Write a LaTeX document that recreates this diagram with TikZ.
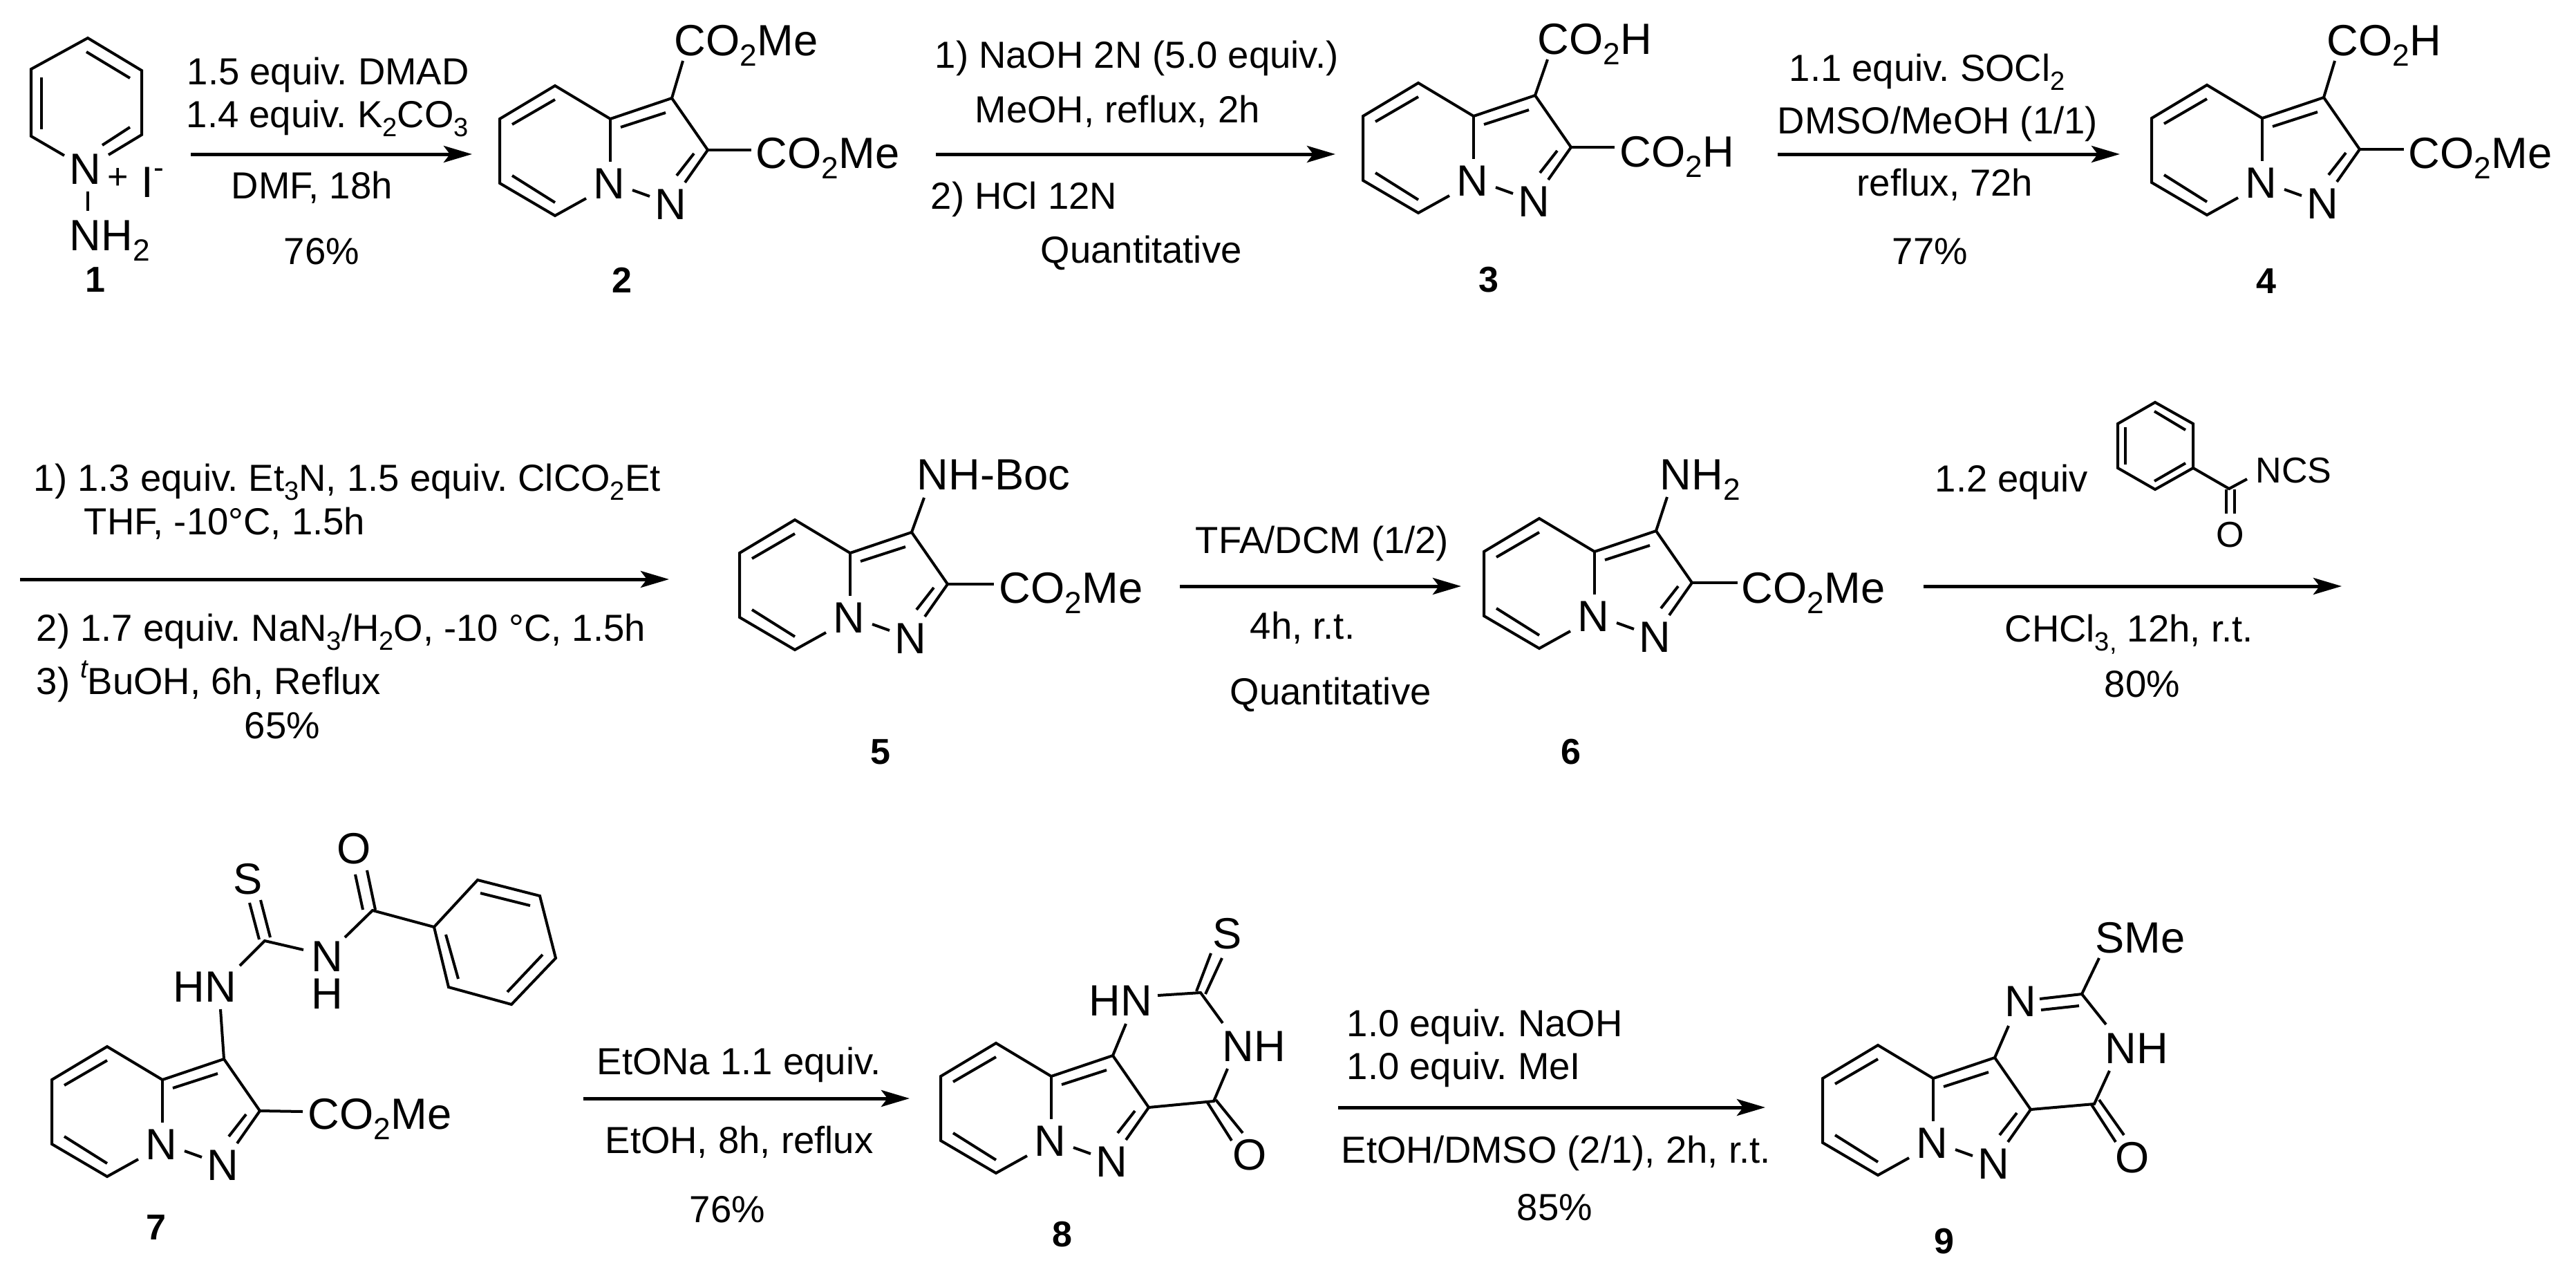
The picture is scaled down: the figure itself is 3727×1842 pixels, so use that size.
\documentclass[tikz,border=0pt]{standalone}
\usepackage{fontspec}
\setmainfont{Liberation Sans}
\usetikzlibrary{arrows.meta}
\newcommand{\chemdn}[1]{\raisebox{-.24em}{\scalebox{.7}{#1}}}
\newcommand{\chemup}[1]{\raisebox{.44em}{\scalebox{.7}{#1}}}
\tikzset{
  bond/.style={line width=.04cm},
  rxn/.style={line width=.05cm, -{Stealth[length=4.1mm, width=2.4mm, inset=.9mm]}},
  rgt/.style={anchor=base west, inner sep=0pt, font=\fontsize{15.5}{17}\selectfont\frenchspacing},
  sml/.style={inner sep=0pt, font=\fontsize{14.8}{16}\selectfont},
  atm/.style={anchor=base west, inner sep=0pt, font=\fontsize{18}{20}\selectfont},
  atc/.style={anchor=center, inner sep=0pt, font=\fontsize{18}{20}\selectfont},
  lbl/.style={anchor=center, inner sep=0pt, font=\fontsize{14.8}{16}\selectfont\bfseries},
  core/.pic={
    \coordinate (-a) at (0,0);
    \coordinate (-f) at (89,-30);
    \coordinate (-g) at (141,45);
    \node at (-2,94) [atc](-n){N};
    \node at (87,124) [atc](-m){N};
    \draw [bond] (-35,115) -- (-80,140) -- (-160,93) -- (-160,0) -- (-80,-48) -- (-a) -- (-f) -- (-g) -- (108,92);
    \draw [bond] (-a) -- (0,62);
    \draw [bond] (15,12) -- (80,-9);
    \draw [bond] (121,50) -- (96,82);
    \draw [bond] (-142,8) -- (-80,-28);
    \draw [bond] (-142,82) -- (-80,121);
    \draw [bond] (32,103) -- (57,112);
  }
}

\begin{document}
\begin{tikzpicture}[x=.01cm, y=-.01cm]
  \useasboundingbox (0,0) rectangle (3727,1842);

  % arrows
  \foreach \nm/\xa/\xb/\yy in {a1/276/683/223, a2/1354/1932/223, a3/2572/3067/223, a4/29/968/838, a5/1707/2114/848, a6/2783/3388/848, a7/844/1316/1589, a8/1936/2554/1602}{
    \coordinate (\nm s) at (\xa,\yy);
    \coordinate (\nm e) at (\xb,\yy);
    \draw [rxn] (\nm s) -- (\nm e);
  }
  % compound numbers
  \foreach \nm/\xx/\yy in {1/138/405, 2/900/405, 3/2154/405, 4/3279/407, 5/1274/1088, 6/2273/1088, 7/226/1776, 8/1537/1786, 9/2813/1796}
    \node at (\xx,\yy) [lbl](l\nm){\nm};

  % pyridinium salt
  \coordinate (p1) at (127,55);
  \coordinate (p2) at (205,102);
  \coordinate (p3) at (205,195);
  \coordinate (p4) at (157,224);
  \coordinate (p5) at (93,225);
  \coordinate (p6) at (45,197);
  \coordinate (p7) at (45,100);
  \draw [bond] (p4) -- (p3) -- (p2) -- (p1) -- (p7) -- (p6) -- (p5);
  \draw [bond] (125,75) -- (188,113);
  \draw [bond] (60,112) -- (60,187);
  \draw [bond] (188,184) -- (148,210);
  \node at (123,245) [atc](n1){N};
  \node at (171,258) [sml, anchor=center](plus){+};
  \node at (204,285) [atm](iod){I\chemup{-}};
  \node at (100,362) [atm](nh1){NH\chemdn{2}};
  \coordinate (b1) at (127,277);
  \coordinate (b2) at (127,305);
  \draw [bond] (b1) -- (b2);

  \node at (270,122) [rgt](r1){1.5 equiv. DMAD};
  \node at (269,184) [rgt](r2){1.4 equiv. K\chemdn{2}CO\chemdn{3}};
  \node at (334,287) [rgt](r3){DMF, 18h};
  \node at (410,382) [rgt](r4){76\%};

  % diester
  \pic (m2) at (883,172) {core};
  \node at (975,80) [atm](m2a){CO\chemdn{2}Me};
  \node at (1093,243) [atm](m2b){CO\chemdn{2}Me};
  \coordinate (m2u) at (988,88);
  \coordinate (m2r) at (1087,217);
  \draw [bond] (m2-f) -- (m2u);
  \draw [bond] (m2-g) -- (m2r);

  \node at (1352,98) [rgt](r5){1) NaOH 2N (5.0 equiv.)};
  \node at (1410,177) [rgt](r6){MeOH, reflux, 2h};
  \node at (1346,302) [rgt](r7){2) HCl 12N};
  \node at (1505,380) [rgt](r8){Quantitative};

  % diacid
  \pic (m3) at (2132,168) {core};
  \node at (2224,78) [atm](m3a){CO\chemdn{2}H};
  \node at (2343,241) [atm](m3b){CO\chemdn{2}H};
  \coordinate (m3u) at (2239,86);
  \coordinate (m3r) at (2336,213);
  \draw [bond] (m3-f) -- (m3u);
  \draw [bond] (m3-g) -- (m3r);

  \node at (2588,117) [rgt](r9){1.1 equiv. SOCl\chemdn{2}};
  \node at (2571,193) [rgt](r10){DMSO/MeOH (1/1)};
  \node at (2686,283) [rgt](r11){reflux, 72h};
  \node at (2737,382) [rgt](r12){77\%};

  % monoester
  \pic (m4) at (3273,171) {core};
  \node at (3366,80) [atm](m4a){CO\chemdn{2}H};
  \node at (3484,243) [atm](m4b){CO\chemdn{2}Me};
  \coordinate (m4u) at (3378,88);
  \coordinate (m4r) at (3478,216);
  \draw [bond] (m4-f) -- (m4u);
  \draw [bond] (m4-g) -- (m4r);

  % second row
  \node at (48,710) [rgt](r13){1) 1.3 equiv. Et\chemdn{3}N, 1.5 equiv. ClCO\chemdn{2}Et};
  \node at (121,773) [rgt](r14){THF, -10°C, 1.5h};
  \node at (52,927) [rgt](r15){2) 1.7 equiv. NaN\chemdn{3}/H\chemdn{2}O, -10 °C, 1.5h};
  \node at (52,1004) [rgt](r16){3) \chemup{\itshape t}BuOH, 6h, Reflux};
  \node at (353,1068) [rgt](r17){65\%};

  \pic (m5) at (1230,800) {core};
  \node at (1326,708) [atm](m5a){NH-Boc};
  \node at (1445,872) [atm](m5b){CO\chemdn{2}Me};
  \coordinate (m5u) at (1337,720);
  \coordinate (m5r) at (1438,845);
  \draw [bond] (m5-f) -- (m5u);
  \draw [bond] (m5-g) -- (m5r);

  \node at (1729,800) [rgt](r18){TFA/DCM (1/2)};
  \node at (1808,924) [rgt](r19){4h, r.t.};
  \node at (1779,1019) [rgt](r20){Quantitative};

  \pic (m6) at (2307,798) {core};
  \node at (2401,708) [atm](m6a){NH\chemdn{2}};
  \node at (2519,872) [atm](m6b){CO\chemdn{2}Me};
  \coordinate (m6u) at (2412,719);
  \coordinate (m6r) at (2514,843);
  \draw [bond] (m6-f) -- (m6u);
  \draw [bond] (m6-g) -- (m6r);

  \node at (2799,711) [rgt](r21){1.2 equiv};
  \node at (2900,928) [rgt](r22){CHCl\chemdn{3,} 12h, r.t.};
  \node at (3044,1008) [rgt](r23){80\%};

  % benzoyl isothiocyanate
  \coordinate (z1) at (3118,582);
  \coordinate (z2) at (3173,613);
  \coordinate (z3) at (3173,677);
  \coordinate (z4) at (3118,708);
  \coordinate (z5) at (3064,677);
  \coordinate (z6) at (3064,613);
  \coordinate (z7) at (3225,707);
  \coordinate (z8) at (3251,693);
  \draw [bond] (z1) -- (z2) -- (z3) -- (z4) -- (z5) -- (z6) -- cycle;
  \draw [bond] (z3) -- (z7) -- (z8);
  \draw [bond] (3117,595) -- (3162,622);
  \draw [bond] (3075,618) -- (3075,672);
  \draw [bond] (3117,696) -- (3162,670);
  \draw [bond] (3221,708) -- (3221,743);
  \draw [bond] (3233,708) -- (3233,743);
  \node at (3263,698) [sml, anchor=base west](zn){NCS};
  \node at (3227,774) [sml, anchor=center](zo){O};

  % third row
  \pic (m7) at (235,1562) {core};
  \node at (445,1633) [atm](m7b){CO\chemdn{2}Me};
  \coordinate (m7r) at (438,1608);
  \draw [bond] (m7-g) -- (m7r);
  \node at (250,1449) [atm](m7h){HN};
  \coordinate (m7u) at (319,1460);
  \draw [bond] (m7-f) -- (m7u);
  \coordinate (c1) at (383,1361);
  \coordinate (c2) at (347,1397);
  \coordinate (c3) at (439,1374);
  \draw [bond] (c2) -- (c1) -- (c3);
  \draw [bond] (361,1306) -- (375,1359);
  \draw [bond] (377,1302) -- (391,1356);
  \node at (359,1272) [atc](m7s){S};
  \node at (473,1384) [atc](m7n){N};
  \node at (473,1438) [atc](m7i){H};
  \coordinate (c4) at (499,1356);
  \coordinate (c5) at (539,1317);
  \coordinate (c6) at (628,1341);
  \draw [bond] (c4) -- (c5) -- (c6);
  \draw [bond] (514,1265) -- (525,1316);
  \draw [bond] (531,1259) -- (543,1316);
  \node at (512,1228) [atc](m7o){O};
  \coordinate (c7) at (691,1273);
  \coordinate (c8) at (781,1296);
  \coordinate (c9) at (804,1386);
  \coordinate (c10) at (740,1453);
  \coordinate (c11) at (649,1428);
  \draw [bond] (c6) -- (c7) -- (c8) -- (c9) -- (c10) -- (c11) -- cycle;
  \draw [bond] (695,1292) -- (767,1310);
  \draw [bond] (785,1381) -- (734,1435);
  \draw [bond] (645,1352) -- (663,1416);

  \node at (863,1554) [rgt](r24){EtONa 1.1 equiv.};
  \node at (875,1668) [rgt](r25){EtOH, 8h, reflux};
  \node at (997,1768) [rgt](r26){76\%};

  % thione
  \pic (m8) at (1521,1557) {core};
  \node at (1575,1469) [atm](m8h){HN};
  \coordinate (m8u) at (1629,1481);
  \draw [bond] (m8-f) -- (m8u);
  \coordinate (d1) at (1737,1436);
  \coordinate (d2) at (1675,1440);
  \coordinate (d3) at (1769,1480);
  \coordinate (d4) at (1776,1546);
  \coordinate (d5) at (1756,1593);
  \draw [bond] (d2) -- (d1) -- (d3);
  \draw [bond] (m8-g) -- (d5) -- (d4);
  \draw [bond] (1731,1434) -- (1752,1379);
  \draw [bond] (1744,1438) -- (1768,1386);
  \draw [bond] (1747,1595) -- (1782,1650);
  \draw [bond] (1759,1591) -- (1798,1639);
  \node at (1776,1351) [atc](m8s){S};
  \node at (1768,1535) [atm](m8n){NH};
  \node at (1808,1671) [atc](m8o){O};

  \node at (1948,1499) [rgt](r27){1.0 equiv. NaOH};
  \node at (1948,1561) [rgt](r28){1.0 equiv. MeI};
  \node at (1940,1682) [rgt](r29){EtOH/DMSO (2/1), 2h, r.t.};
  \node at (2194,1765) [rgt](r30){85\%};

  % S-methyl product
  \pic (m9) at (2797,1560) {core};
  \node at (2923,1449) [atc](m9h){N};
  \coordinate (m9u) at (2906,1484);
  \draw [bond] (m9-f) -- (m9u);
  \coordinate (e1) at (3012,1438);
  \coordinate (e2) at (2951,1445);
  \coordinate (e3) at (3037,1386);
  \coordinate (e4) at (3047,1482);
  \coordinate (e5) at (3052,1549);
  \coordinate (e6) at (3030,1597);
  \draw [bond] (e2) -- (e1) -- (e3);
  \draw [bond] (e1) -- (e4);
  \draw [bond] (2953,1461) -- (3008,1455);
  \draw [bond] (m9-g) -- (e6) -- (e5);
  \draw [bond] (3026,1598) -- (3061,1652);
  \draw [bond] (3037,1591) -- (3073,1642);
  \node at (3031,1378) [atm](m9s){SMe};
  \node at (3045,1538) [atm](m9n){NH};
  \node at (3085,1675) [atc](m9o){O};
\end{tikzpicture}
\end{document}
